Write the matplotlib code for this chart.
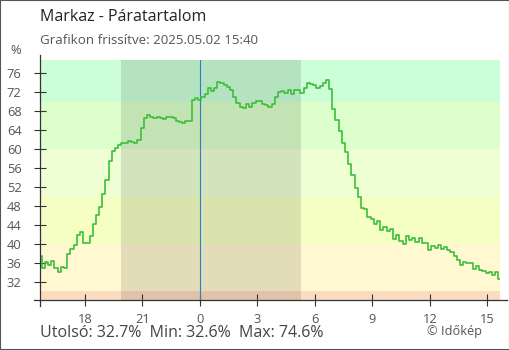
import pandas as pd
import matplotlib.pyplot as plt
import matplotlib.dates as mdates
from matplotlib.lines import Line2D
from matplotlib.patches import Rectangle

# Humidity readings, every 10 minutes from 2025-05-01 15:40 to 2025-05-02 15:40
humidity = [
    37.4, 34.9, 36.3, 35.6, 36.4, 35.0, 34.0, 35.2, 35.0, 38.0,
    38.9, 39.8, 42.0, 42.6, 40.3, 40.2, 41.6, 44.2, 46.2, 47.8,
    50.5, 53.6, 57.5, 59.6, 60.2, 60.8, 61.2, 61.4, 61.7, 61.6,
    61.3, 62.0, 64.4, 66.5, 67.1, 66.8, 66.6, 66.7, 66.5, 66.4,
    66.8, 66.8, 66.5, 66.0, 65.7, 65.5, 66.0, 66.0, 70.3, 70.8,
    70.3, 70.9, 71.6, 73.0, 72.2, 72.8, 74.1, 73.9, 73.5, 73.2,
    72.5, 71.0, 69.8, 68.8, 68.7, 69.6, 68.8, 69.8, 70.2, 70.1,
    69.5, 69.3, 68.9, 69.6, 71.1, 72.0, 72.3, 71.9, 72.4, 71.6,
    72.4, 72.5, 71.8, 72.9, 74.0, 73.7, 73.5, 72.8, 73.3, 74.0,
    74.6, 72.6, 68.5, 66.1, 63.9, 61.3, 59.5, 56.8, 54.5, 51.8,
    50.0, 47.6, 47.4, 45.8, 45.3, 44.2, 44.8, 43.0, 43.6, 42.8,
    43.2, 41.0, 41.8, 40.6, 40.0, 41.6, 40.9, 41.2, 40.4, 41.3,
    40.2, 40.3, 38.7, 39.6, 39.2, 39.7, 39.0, 39.4, 38.8, 38.4,
    37.4, 36.6, 35.6, 36.3, 35.9, 36.0, 34.8, 35.4, 34.5, 34.3,
    33.8, 34.0, 33.4, 34.0, 32.7,
]
times = pd.date_range('2025-05-01 15:40', '2025-05-02 15:40', freq='10min')

# background bands (humidity ranges) and their colours
band_edges = [0, 30, 40, 50, 60, 70, 100]
band_colors = ['#fcdcc0', '#fff8d0', '#f5ffc4', '#eeffd4', '#ddffcc', '#ccffd8']

night_start = pd.Timestamp('2025-05-01 19:55')
night_end = pd.Timestamp('2025-05-02 05:18')
midnight = pd.Timestamp('2025-05-02 00:00')

title = 'Markaz - Páratartalom'
subtitle = 'Grafikon frissítve: 2025.05.02 15:40'
stats = 'Utolsó: 32.7%  Min: 32.6%  Max: 74.6%'
credit = '© Időkép'

plt.rcParams['font.family'] = ['Open Sans', 'DejaVu Sans']

fig = plt.figure(figsize=(5.1, 3.5), dpi=100)
ax = fig.add_axes([40 / 510, 50 / 350, 460 / 510, 240 / 350])

for lo, hi, c in zip(band_edges[:-1], band_edges[1:], band_colors):
    ax.axhspan(lo, hi, color=c, lw=0, zorder=0)
ax.axvspan(night_start, night_end, color='black', alpha=0.11, lw=0, zorder=1)
ax.axvline(midnight, color='#2a80c0', lw=0.8, zorder=2)

ax.plot(times, humidity, color='#3cbe3c', lw=1.2, drawstyle='steps-mid', zorder=3)

ax.set_xlim(times[0], times[-1])
ax.set_ylim(28.2, 78.8)
ax.set_yticks(range(32, 77, 4))
ax.xaxis.set_major_locator(mdates.HourLocator(byhour=range(0, 24, 3)))
ax.xaxis.set_major_formatter(plt.FuncFormatter(lambda x, p: str(mdates.num2date(x).hour)))

for s in ax.spines.values():
    s.set_visible(False)
ax.tick_params(direction='inout', length=8.6, width=0.8, color='#333333',
               labelcolor='#555555', labelsize=9.3)
ax.tick_params(axis='y', pad=9)
ax.tick_params(axis='x', pad=5)

# axis lines sticking out a bit, as in the original
fig.add_artist(Line2D([40 / 510, 40 / 510], [1 - 306 / 350, 1 - 55 / 350],
                      transform=fig.transFigure, color='#333333', lw=0.9))
fig.add_artist(Line2D([34 / 510, 507 / 510], [50 / 350, 50 / 350],
                      transform=fig.transFigure, color='#333333', lw=0.9))
fig.add_artist(Rectangle((0, 0), 1, 1, transform=fig.transFigure, fill=False,
                         ec='#555555', lw=1.5))

fig.text(40 / 510, 1 - 17 / 350, title, fontsize=11.5, color='#222222', va='center')
fig.text(40 / 510, 1 - 40 / 350, subtitle, fontsize=9.6, color='#555555', va='center')
fig.text(21 / 510, 1 - 50 / 350, '%', fontsize=9.3, color='#555555', ha='right', va='center')
fig.text(40 / 510, 1 - 333 / 350, stats, fontsize=11.5, color='#444444', va='center')
fig.text(482 / 510, 1 - 332 / 350, credit, fontsize=9.2, color='#555555', ha='right', va='center')

fig.savefig('out.png', dpi=100)
